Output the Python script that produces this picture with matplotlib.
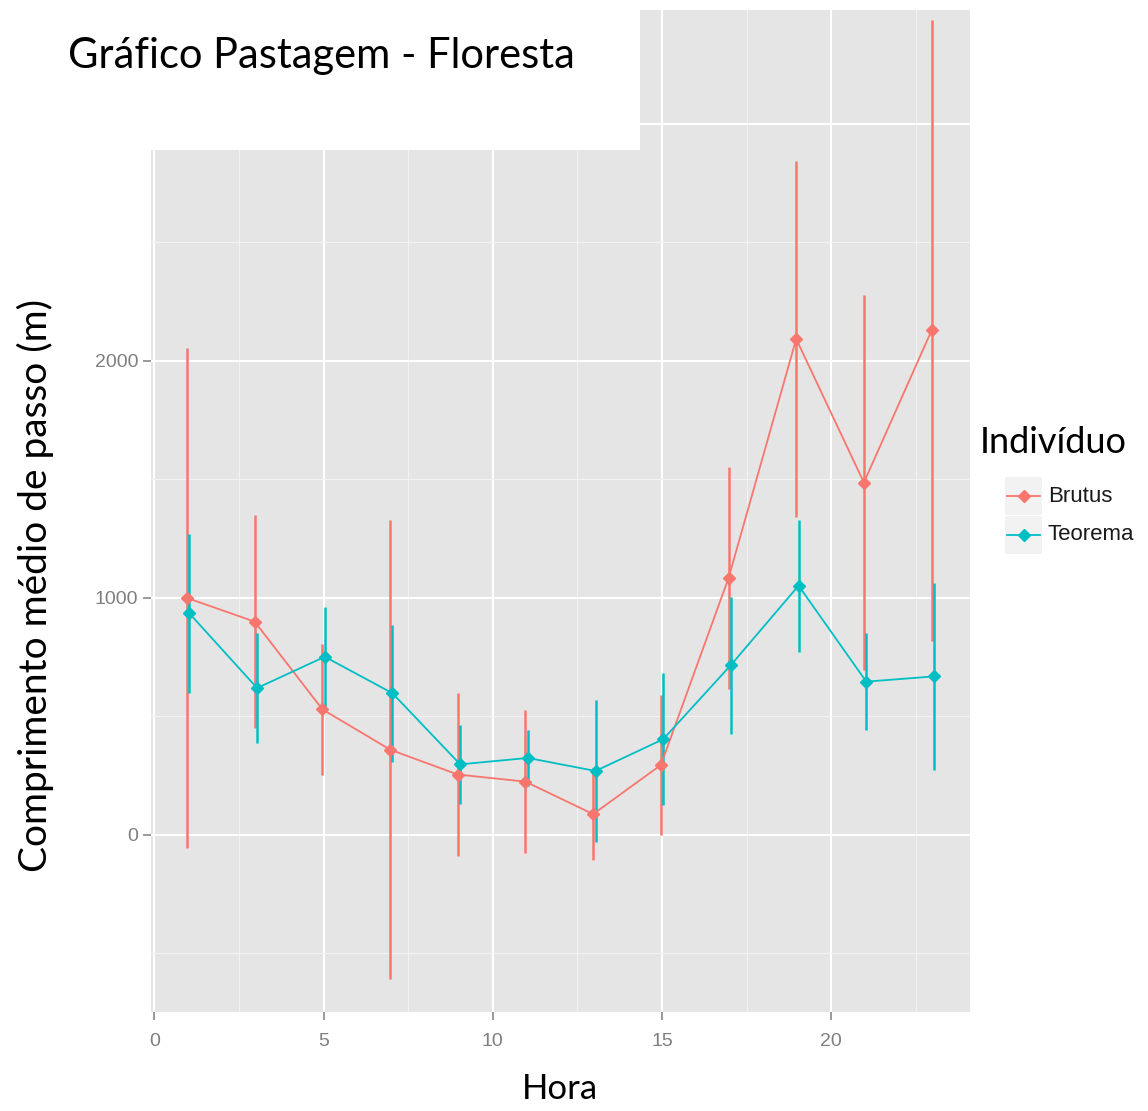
import matplotlib
matplotlib.use("Agg")
import matplotlib.pyplot as plt
from matplotlib.patches import Rectangle
from matplotlib.lines import Line2D
from matplotlib.ticker import MultipleLocator

# ---- data ----
hora = [1, 3, 5, 7, 9, 11, 13, 15, 17, 19, 21, 23]
brutus_mean = [1000, 900, 530, 360, 255, 225, 88, 295, 1084, 2093, 1487, 2129]
brutus_err = [1054, 450, 277, 968, 343, 302, 193, 295, 469, 752, 791, 1310]
teorema_mean = [935, 620, 752, 598, 298, 325, 270, 404, 717, 1052, 647, 669]
teorema_err = [335, 232, 211, 288, 167, 118, 300, 279, 289, 279, 205, 396]
series_names = ["Brutus", "Teorema"]
series_colors = ["#F8766D", "#00BFC4"]

title_text = "Gráfico Pastagem - Floresta"
xlabel_text = "Hora"
ylabel_text = "Comprimento médio de passo (m)"
legend_title = "Indivíduo"

W, H = 1148, 1111
fig = plt.figure(figsize=(W / 100, H / 100), dpi=100)
fig.patch.set_facecolor("white")

def fx(px):
    return px / W

def fy(py):
    return 1 - py / H

ax = fig.add_axes([fx(151), fy(1012), fx(970) - fx(151), fy(10) - fy(1012)])
ax.set_facecolor("#E5E5E5")
for s in ax.spines.values():
    s.set_visible(False)

ax.set_xlim(-0.1, 24.1)
ax.set_ylim(-747, 3481)
ax.xaxis.set_major_locator(MultipleLocator(5))
ax.xaxis.set_minor_locator(MultipleLocator(2.5))
ax.yaxis.set_major_locator(MultipleLocator(1000))
ax.yaxis.set_minor_locator(MultipleLocator(500))
ax.grid(which="minor", color="#F2F2F2", lw=0.8, zorder=0)
ax.grid(which="major", color="white", lw=1.5, zorder=0)
ax.set_axisbelow(True)
ax.tick_params(which="minor", length=0)
ax.tick_params(which="major", length=6, width=1.1, color="#7F7F7F",
               labelcolor="#7F7F7F", labelsize=14, pad=3)
ax.tick_params(axis="x", which="major", pad=9)
for lab in ax.get_xticklabels() + ax.get_yticklabels():
    lab.set_family("Liberation Sans")

means = [brutus_mean, teorema_mean]
errs = [brutus_err, teorema_err]
offsets = [-0.035, 0.035]

for m, e, c, o in zip(means, errs, series_colors, offsets):
    xs = [h + o for h in hora]
    ax.vlines(xs, [a - b for a, b in zip(m, e)], [a + b for a, b in zip(m, e)],
              color=c, lw=1.8, zorder=2)
for m, c, o in zip(means, series_colors, offsets):
    xs = [h + o for h in hora]
    ax.plot(xs, m, color=c, lw=1.3, zorder=3)
for m, c, o in zip(means, series_colors, offsets):
    xs = [h + o for h in hora]
    ax.plot(xs, m, ls="none", marker="D", ms=6, color=c, zorder=4)

# axis titles
fig.text(fx(560), fy(1099), xlabel_text, fontsize=25, family="Lato", color="black",
         ha="center", va="baseline")
fig.text(fx(35), fy(586), ylabel_text, fontsize=28, family="Lato", color="black",
         ha="center", va="center", rotation=90)

# white title box over the top-left of the panel
fig.add_artist(Rectangle((0, fy(150)), fx(640), 150 / H, transform=fig.transFigure,
                         facecolor="white", edgecolor="none", zorder=10))
fig.text(fx(68), fy(68), title_text, fontsize=30, family="Lato", color="black",
         ha="left", va="baseline", zorder=11)

# legend
fig.text(fx(980), fy(453), legend_title, fontsize=26, family="Lato", color="black",
         ha="left", va="baseline")
for i, (name, c) in enumerate(zip(series_names, series_colors)):
    top = 477 + i * 39
    fig.add_artist(Rectangle((fx(1005), fy(top + 38)), fx(37), 38 / H,
                             transform=fig.transFigure, facecolor="#F2F2F2",
                             edgecolor="none"))
    yc = fy(top + 19)
    fig.add_artist(Line2D([fx(1007), fx(1040)], [yc, yc], transform=fig.transFigure,
                          color=c, lw=1.3))
    fig.add_artist(Line2D([fx(1023.5)], [yc], transform=fig.transFigure, color=c,
                          marker="D", ms=6, ls="none"))
    fig.text(fx(1048), yc, name, fontsize=16, family="Liberation Sans",
             color="#1A1A1A", ha="left", va="center")

fig.savefig("out.png", dpi=100)
